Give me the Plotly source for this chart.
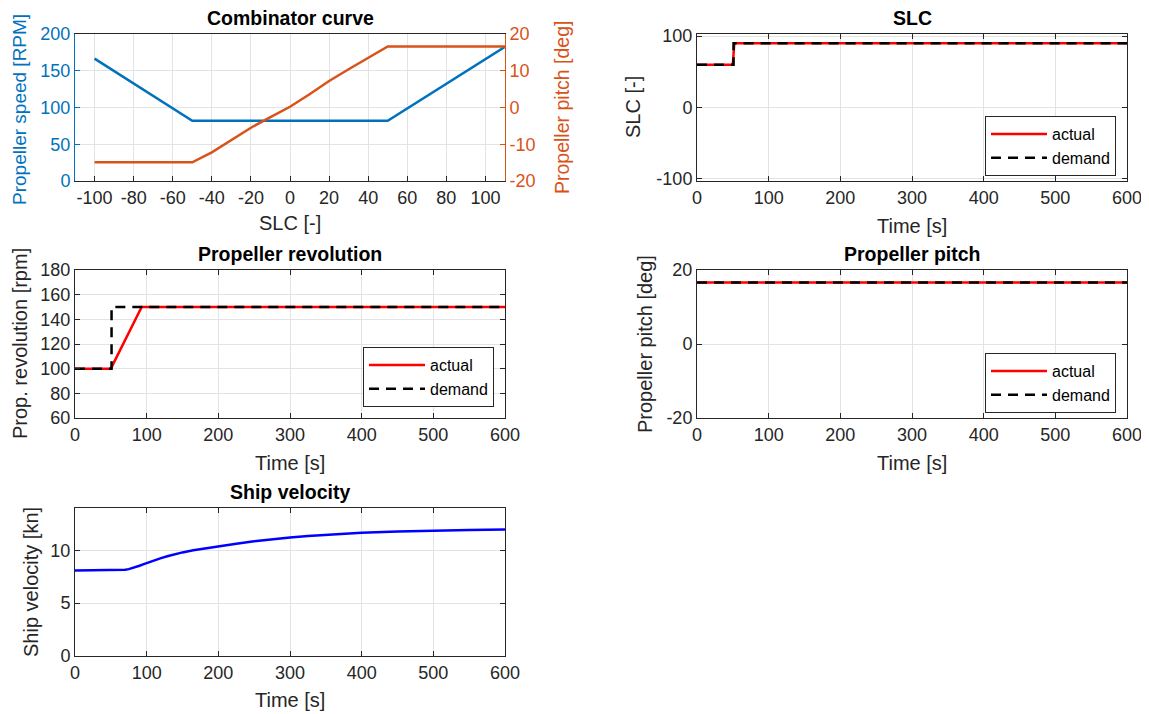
import plotly.graph_objects as go

# ---------------- data ----------------
slc_axis = [-100, -50, 50, 110]
prop_speed_rpm = [166.5, 82, 82, 182.5]

slc_pitch_axis = [-100, -50, -40, -30, -20, -10, 0, 10, 20, 30, 40, 50, 110]
prop_pitch_deg = [-14.9, -14.9, -12.2, -8.8, -5.5, -2.6, 0.2, 3.6, 7.2, 10.4, 13.6, 16.6, 16.6]

t_slc_actual = [0, 50, 52, 600]
slc_actual = [60, 60, 90, 90]
t_slc_demand = [0, 51, 51, 600]
slc_demand = [60, 60, 90, 90]

t_rev_actual = [0, 50, 93, 600]
rev_actual = [100, 100, 150, 150]
t_rev_demand = [0, 51, 51, 600]
rev_demand = [100, 100, 150, 150]

t_pitch = [0, 600]
pitch_actual = [16.6, 16.6]
pitch_demand = [16.6, 16.6]

t_vel = [0, 55, 60, 65, 70, 75, 80, 85, 90, 95, 100, 110, 120, 130, 140, 150, 165, 180, 200, 225, 250,
         275, 300, 325, 350, 375, 400, 450, 500, 550, 600]
ship_vel = [8.08, 8.08, 8.09, 8.11, 8.15, 8.22, 8.31, 8.42, 8.54, 8.67, 8.8, 9.04, 9.26, 9.46, 9.64, 9.8, 10.0, 10.17,
            10.37, 10.62, 10.85, 11.05, 11.22, 11.36, 11.47, 11.57, 11.65, 11.77, 11.86, 11.92, 11.96]

time_ticks = [0, 100, 200, 300, 400, 500, 600]
slc_ticks = [-100, -80, -60, -40, -20, 0, 20, 40, 60, 80, 100]

# ---------------- styling ----------------
PAGE_MARGIN = 8  # default body margin of the html page
W, H = 1149, 714
FONT = "Arial, Liberation Sans, sans-serif"
TXT = "#262626"
GRID = "#e3e3e3"
BLUE = "#0072BD"
ORANGE = "#D95319"
TICK_SZ = 18
LAB_SZ = 20
TIT_SZ = 19.5


def px_x(p):
    return (p - PAGE_MARGIN) / W


def px_y(p):
    return 1 - (p - PAGE_MARGIN) / H


def labels(vals):
    return [str(v) for v in vals]


LX = [px_x(75), px_x(505)]
RX = [px_x(697), px_x(1127)]
R1 = [px_y(181), px_y(34)]
R2 = [px_y(418), px_y(270)]
R3 = [px_y(656), px_y(508)]


def xax(domain, anchor, rng, ticks, color=TXT):
    return dict(domain=domain, anchor=anchor, range=rng, tickvals=ticks, ticktext=labels(ticks),
                showgrid=True, gridcolor=GRID, gridwidth=1, zeroline=False, automargin=False,
                showline=True, linecolor=color, linewidth=1, mirror="ticks",
                ticks="inside", ticklen=5, tickcolor=color, ticklabeloverflow="allow",
                tickfont=dict(size=TICK_SZ, color=TXT, family=FONT))


def yax(domain, anchor, rng, ticks, color=TXT, mirror="ticks"):
    return dict(domain=domain, anchor=anchor, range=rng, tickvals=ticks, ticktext=labels(ticks),
                showgrid=True, gridcolor=GRID, gridwidth=1, zeroline=False, automargin=False,
                showline=True, linecolor=color, linewidth=1, mirror=mirror,
                ticks="inside", ticklen=5, tickcolor=color, ticklabeloverflow="allow",
                tickfont=dict(size=TICK_SZ, color=color, family=FONT))


fig = go.Figure()

# Combinator curve
fig.add_trace(go.Scatter(x=slc_axis, y=prop_speed_rpm, mode="lines",
                         line=dict(color=BLUE, width=2.5), xaxis="x", yaxis="y", showlegend=False))
fig.add_trace(go.Scatter(x=slc_pitch_axis, y=prop_pitch_deg, mode="lines",
                         line=dict(color=ORANGE, width=2.5), xaxis="x", yaxis="y2", showlegend=False))

# SLC
fig.add_trace(go.Scatter(x=t_slc_actual, y=slc_actual, mode="lines", name="actual",
                         line=dict(color="red", width=2.5), xaxis="x2", yaxis="y3", legend="legend2"))
fig.add_trace(go.Scatter(x=t_slc_demand, y=slc_demand, mode="lines", name="demand",
                         line=dict(color="black", width=2.5, dash="10px,7px"), xaxis="x2", yaxis="y3", legend="legend2"))

# Propeller revolution
fig.add_trace(go.Scatter(x=t_rev_actual, y=rev_actual, mode="lines", name="actual",
                         line=dict(color="red", width=2.5), xaxis="x3", yaxis="y4", legend="legend3"))
fig.add_trace(go.Scatter(x=t_rev_demand, y=rev_demand, mode="lines", name="demand",
                         line=dict(color="black", width=2.5, dash="10px,7px"), xaxis="x3", yaxis="y4", legend="legend3"))

# Propeller pitch
fig.add_trace(go.Scatter(x=t_pitch, y=pitch_actual, mode="lines", name="actual",
                         line=dict(color="red", width=2.5), xaxis="x4", yaxis="y5", legend="legend4"))
fig.add_trace(go.Scatter(x=t_pitch, y=pitch_demand, mode="lines", name="demand",
                         line=dict(color="black", width=2.5, dash="10px,7px"), xaxis="x4", yaxis="y5", legend="legend4"))

# Ship velocity
fig.add_trace(go.Scatter(x=t_vel, y=ship_vel, mode="lines", line=dict(color="blue", width=2.5),
                         xaxis="x5", yaxis="y6", showlegend=False))

legend_style = dict(bgcolor="white", bordercolor="#262626", borderwidth=1,
                    font=dict(size=16, color="black", family=FONT),
                    xanchor="left", yanchor="top", itemwidth=56, tracegroupgap=0)

cx = xax(LX, "y", [-110, 110], slc_ticks)
cx["mirror"] = True
cy = yax(R1, "x", [0, 200], [0, 50, 100, 150, 200], color=BLUE, mirror=False)
cy2 = dict(overlaying="y", side="right", anchor="x", range=[-20, 20], tickvals=[-20, -10, 0, 10, 20],
           ticktext=labels([-20, -10, 0, 10, 20]), automargin=False,
           showgrid=False, zeroline=False, showline=True, linecolor=ORANGE, linewidth=1,
           ticks="inside", ticklen=5, tickcolor=ORANGE, ticklabeloverflow="allow",
           tickfont=dict(size=TICK_SZ, color=ORANGE, family=FONT))

fig.update_layout(
    template="none",
    width=W, height=H, autosize=False,
    margin=dict(l=0, r=0, t=0, b=0, pad=0),
    paper_bgcolor="white", plot_bgcolor="white",
    font=dict(family=FONT, color=TXT),
    xaxis=cx, yaxis=cy, yaxis2=cy2,
    xaxis2=xax(RX, "y3", [0, 600], time_ticks),
    yaxis3=yax(R1, "x2", [-103, 103], [-100, 0, 100]),
    xaxis3=xax(LX, "y4", [0, 600], time_ticks),
    yaxis4=yax(R2, "x3", [60, 180], [60, 80, 100, 120, 140, 160, 180]),
    xaxis4=xax(RX, "y5", [0, 600], time_ticks),
    yaxis5=yax(R2, "x4", [-20, 20], [-20, 0, 20]),
    xaxis5=xax(LX, "y6", [0, 600], time_ticks),
    yaxis6=yax(R3, "x5", [0, 14], [0, 5, 10]),
    legend2=dict(x=px_x(985), y=px_y(116), **legend_style),
    legend3=dict(x=px_x(363), y=px_y(347), **legend_style),
    legend4=dict(x=px_x(985), y=px_y(353), **legend_style),
)

ann = []


def text(x, y, s, size=LAB_SZ, color=TXT, bold=False, angle=0):
    ann.append(dict(x=px_x(x), y=px_y(y), xref="paper", yref="paper", text=("<b>%s</b>" % s) if bold else s,
                    showarrow=False, textangle=angle, xanchor="center", yanchor="middle",
                    font=dict(size=size, color=color if not bold else "black", family=FONT)))


# titles
text(290, 18, "Combinator curve", TIT_SZ, bold=True)
text(912, 18, "SLC", TIT_SZ, bold=True)
text(290, 254, "Propeller revolution", TIT_SZ, bold=True)
text(912, 254, "Propeller pitch", TIT_SZ, bold=True)
text(290, 492, "Ship velocity", TIT_SZ, bold=True)

# axis labels
text(290, 223, "SLC [-]")
text(20, 110, "Propeller speed [RPM]", size=19, color=BLUE, angle=-90)
text(562, 108, "Propeller pitch [deg]", size=19.5, color=ORANGE, angle=-90)
text(912, 226, "Time [s]")
text(633, 107, "SLC [-]", angle=-90)
text(290, 463, "Time [s]")
text(20, 344, "Prop. revolution [rpm]", angle=-90)
text(912, 463, "Time [s]")
text(645, 344, "Propeller pitch [deg]", angle=-90)
text(290, 700, "Time [s]")
text(31, 582, "Ship velocity [kn]", angle=-90)

fig.update_layout(annotations=ann)

fig.write_html("out.html")
